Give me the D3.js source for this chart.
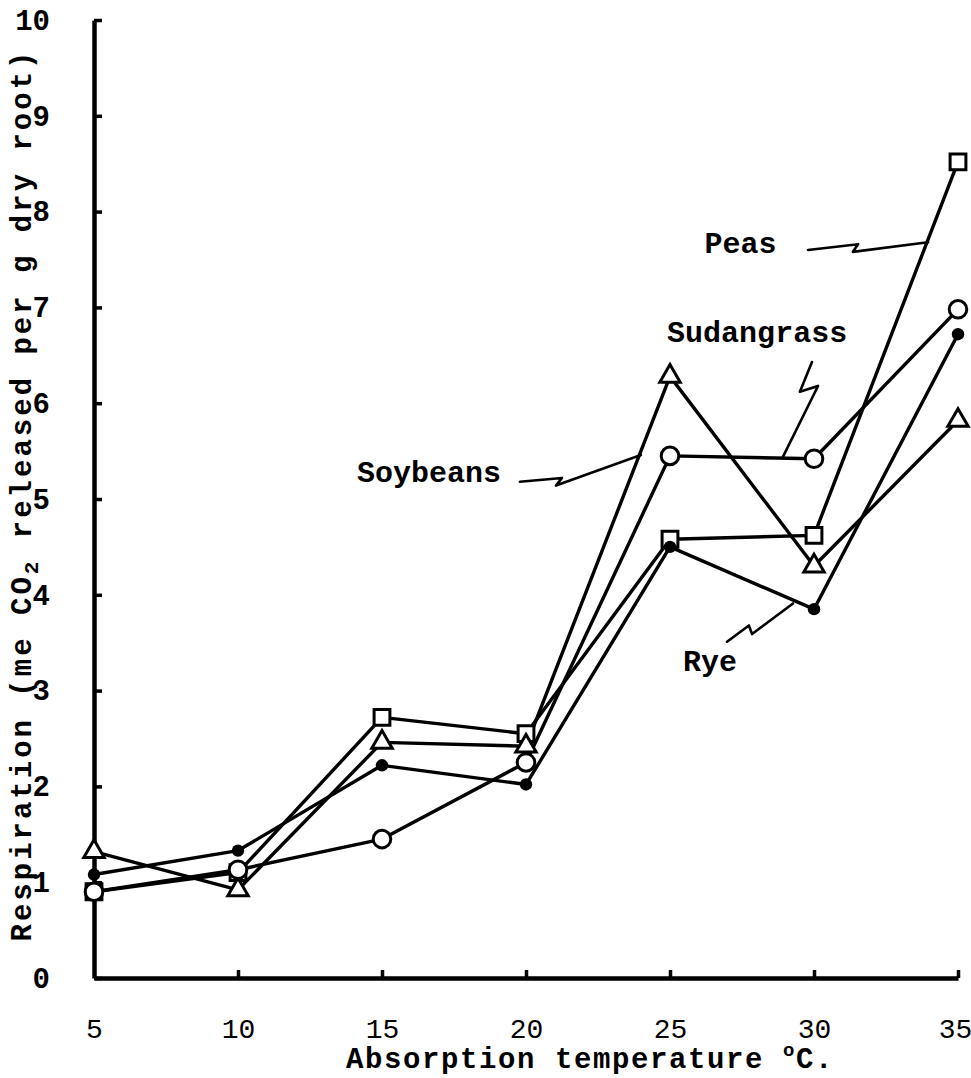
<!DOCTYPE html>
<html>
<head>
<meta charset="utf-8">
<script src="https://cdn.jsdelivr.net/npm/d3@7"></script>
<style>
  html, body { margin: 0; padding: 0; background: #fff; }
  svg { display: block; }
  text { font-family: "Liberation Mono", "DejaVu Sans Mono", monospace; fill: #000; }
</style>
</head>
<body>
<svg id="chart" width="971" height="1078"></svg>
<script>
// Root respiration vs. absorption temperature, four crops
const temperatures = [5, 10, 15, 20, 25, 30, 35];
const peas       = [0.9, 1.1, 2.72, 2.55, 4.58, 4.62, 8.52];
const soybeans   = [1.32, 0.92, 2.46, 2.42, 6.28, 4.3, 5.82];
const sudangrass = [0.9, 1.13, 1.45, 2.25, 5.45, 5.42, 6.98];
const rye        = [1.08, 1.33, 2.22, 2.02, 4.5, 3.85, 6.72];

const xTicks = [5, 10, 15, 20, 25, 30, 35];
const yTicks = [0, 1, 2, 3, 4, 5, 6, 7, 8, 9, 10];

// Pointer squiggles for the crop labels, in data units
const peasPointer  = [[29.79, 7.60], [31.53, 7.66], [31.35, 7.58], [33.96, 7.68]];
const sudanPointer = [[29.93, 6.43], [29.51, 6.12], [30.14, 6.18], [28.92, 5.44]];
const soyPointer   = [[19.79, 5.18], [21.25, 5.22], [21.04, 5.14], [23.99, 5.46]];
const ryePointer   = [[26.98, 3.51], [27.74, 3.68], [27.85, 3.59], [29.27, 3.91]];

const labels = [
  { text: "Peas",       x: 26.2, y: 7.57 },
  { text: "Sudangrass", x: 24.9, y: 6.64 },
  { text: "Soybeans",   x: 14.13, y: 5.18 },
  { text: "Rye",        x: 25.45, y: 3.2 }
];

const svg = d3.select("#chart");
const x = d3.scaleLinear().domain([5, 35]).range([94, 958]);
const y = d3.scaleLinear().domain([0, 10]).range([978, 20]);

// Axes
const xAxis = d3.axisBottom(x).tickValues(xTicks).tickSizeInner(-8).tickSizeOuter(0).tickPadding(40);
const yAxis = d3.axisLeft(y).tickValues(yTicks).tickSizeInner(-8).tickSizeOuter(0).tickPadding(44);

const gx = svg.append("g").attr("transform", `translate(0,${y(0)})`).call(xAxis);
const gy = svg.append("g").attr("transform", `translate(${x(5)},0)`).call(yAxis);

[gx, gy].forEach(g => {
  g.select(".domain").attr("stroke", "#000").attr("stroke-width", 4.5);
  g.selectAll(".tick line").attr("stroke", "#000").attr("stroke-width", 3.5);
  g.selectAll(".tick text")
    .style("font-family", "'Liberation Mono', monospace")
    .style("font-size", "29px")
    .style("font-weight", "bold")
    .attr("fill", "#000");
});
gx.selectAll(".tick text").style("font-weight", "normal").style("font-size", "28px");
gx.selectAll(".tick").filter(d => d === 35).select("text").attr("dx", -3);
gx.selectAll(".tick").filter(d => d === 5).select("line").remove();

// Axis titles
svg.append("text")
  .attr("x", 346).attr("y", 1068)
  .style("font-size", "29px").style("font-weight", "bold")
  .style("letter-spacing", "1.6px")
  .call(t => {
    t.append("tspan").text("Absorption temperature ");
    t.append("tspan").attr("dy", -12).style("font-size", "19px").text("o");
    t.append("tspan").attr("dy", 12).text("C.");
  });

svg.append("text")
  .attr("transform", "translate(31,495) rotate(-90)")
  .attr("text-anchor", "middle")
  .style("font-size", "29px").style("font-weight", "bold")
  .style("letter-spacing", "3px")
  .call(t => {
    t.append("tspan").text("Respiration (me CO");
    t.append("tspan").attr("dy", 7).style("font-size", "21px").text("2");
    t.append("tspan").attr("dy", -7).text(" released per g dry root)");
  });

// Series
const series = [
  { name: "Peas",       values: peas,       marker: "square" },
  { name: "Soybeans",   values: soybeans,   marker: "triangle" },
  { name: "Sudangrass", values: sudangrass, marker: "circle" },
  { name: "Rye",        values: rye,        marker: "dot" }
];

const line = d3.line().x(d => x(d[0])).y(d => y(d[1]));

const gLines = svg.append("g");
series.forEach(s => {
  const pts = temperatures.map((t, i) => [t, s.values[i]]);
  gLines.append("path")
    .attr("d", line(pts))
    .attr("fill", "none")
    .attr("stroke", "#000")
    .attr("stroke-width", 3.4)
    .attr("stroke-linejoin", "round");
});

// Label pointers
const pointerLine = d3.line().x(d => x(d[0])).y(d => y(d[1]));
[peasPointer, sudanPointer, soyPointer, ryePointer].forEach(p => {
  svg.append("path")
    .attr("d", pointerLine(p))
    .attr("fill", "none")
    .attr("stroke", "#000")
    .attr("stroke-width", 2.6)
    .attr("stroke-linejoin", "round")
    .attr("stroke-linecap", "round");
});

// Markers
const gMarks = svg.append("g");
series.forEach(s => {
  temperatures.forEach((t, i) => {
    const cx = x(t), cy = y(s.values[i]);
    if (s.marker === "square") {
      gMarks.append("path")
        .attr("d", d3.symbol(d3.symbolSquare, 250)())
        .attr("transform", `translate(${cx},${cy})`)
        .attr("fill", "#fff").attr("stroke", "#000").attr("stroke-width", 3);
    } else if (s.marker === "triangle") {
      gMarks.append("path")
        .attr("d", d3.symbol(d3.symbolTriangle, 180)())
        .attr("transform", `translate(${cx},${cy})`)
        .attr("fill", "#fff").attr("stroke", "#000").attr("stroke-width", 3);
    } else if (s.marker === "circle") {
      gMarks.append("circle")
        .attr("cx", cx).attr("cy", cy).attr("r", 8.8)
        .attr("fill", "#fff").attr("stroke", "#000").attr("stroke-width", 3);
    } else {
      gMarks.append("circle")
        .attr("cx", cx).attr("cy", cy).attr("r", 6.2)
        .attr("fill", "#000");
    }
  });
});

// Crop labels
svg.append("g").selectAll("text")
  .data(labels)
  .join("text")
  .attr("x", d => x(d.x))
  .attr("y", d => y(d.y))
  .style("font-size", "30px")
  .style("font-weight", "bold")
  .text(d => d.text);
</script>
</body>
</html>
